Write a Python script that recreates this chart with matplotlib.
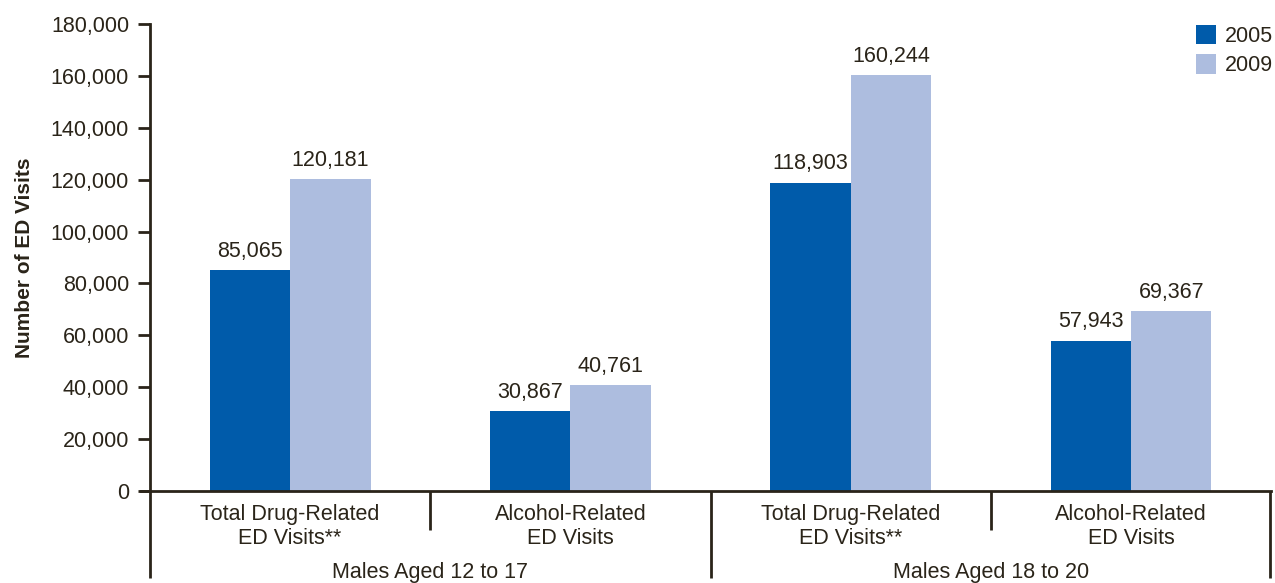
import matplotlib.pyplot as plt
import matplotlib.transforms as mtransforms
import numpy as np

plt.rcParams["font.family"] = ["Liberation Sans", "DejaVu Sans"]

categories = [
    "Total Drug-Related\nED Visits**",
    "Alcohol-Related\nED Visits",
    "Total Drug-Related\nED Visits**",
    "Alcohol-Related\nED Visits",
]
groups = ["Males Aged 12 to 17", "Males Aged 18 to 20"]
visits_2005 = [85065, 30867, 118903, 57943]
visits_2009 = [120181, 40761, 160244, 69367]
years = ["2005", "2009"]

ink = "#2a2419"
c2005 = "#005baa"
c2009 = "#adbddf"
fs = 15.5

fig = plt.figure(figsize=(12.75, 5.83), dpi=100)
ax = fig.add_axes([0.1176, 0.1578, 0.8794, 0.801])

x = np.arange(len(categories)) + 0.5
w = 0.287
b1 = ax.bar(x - w / 2, visits_2005, w, color=c2005, label=years[0])
b2 = ax.bar(x + w / 2, visits_2009, w, color=c2009, label=years[1])

for bars, vals in ((b1, visits_2005), (b2, visits_2009)):
    for rect, v in zip(bars, vals):
        ax.annotate(f"{v:,}", (rect.get_x() + rect.get_width() / 2, v),
                    xytext=(0, 6), textcoords="offset points",
                    ha="center", va="bottom", fontsize=fs, color=ink)

ax.set_xlim(0, 4)
ax.set_ylim(0, 180000)
ax.set_yticks(np.arange(0, 180001, 20000))
ax.set_yticklabels([f"{t:,}" for t in range(0, 180001, 20000)],
                   fontsize=fs, color=ink)
ax.tick_params(axis="y", length=9, width=2, color=ink, pad=6)
ax.set_xticks([])
ax.set_ylabel("Number of ED Visits", fontsize=15, fontweight="bold",
              color=ink, labelpad=12)

for side in ("top", "right"):
    ax.spines[side].set_visible(False)
ax.spines["left"].set_linewidth(2)
ax.spines["left"].set_color(ink)
ax.spines["bottom"].set_linewidth(2)
ax.spines["bottom"].set_color(ink)
ax.spines["bottom"].set_bounds(-0.032, 4)

# category separators and group brackets below the axis
trans = mtransforms.blended_transform_factory(ax.transData, ax.transAxes)
for xs in (1, 3):
    ax.plot([xs, xs], [0, -0.0835], transform=trans, color=ink, lw=2,
            clip_on=False, solid_capstyle="butt")
for xs in (0, 2, 3.997):
    ax.plot([xs, xs], [0, -0.186], transform=trans, color=ink, lw=2,
            clip_on=False, solid_capstyle="butt")

for xi, lab in zip(x, categories):
    ax.text(xi, -0.028, lab, transform=trans, ha="center", va="top",
            fontsize=fs, color=ink, linespacing=1.2)
for gi, g in enumerate(groups):
    ax.text(2 * gi + 1, -0.175, g, transform=trans, ha="center",
            va="center", fontsize=fs, color=ink)

leg = ax.legend(loc="upper right", bbox_to_anchor=(1.019, 1.04), frameon=False,
                fontsize=fs, handlelength=0.95, handleheight=1.0,
                handletextpad=0.4, labelspacing=0.35)
for t in leg.get_texts():
    t.set_color(ink)

fig.savefig("out.png", dpi=100)
